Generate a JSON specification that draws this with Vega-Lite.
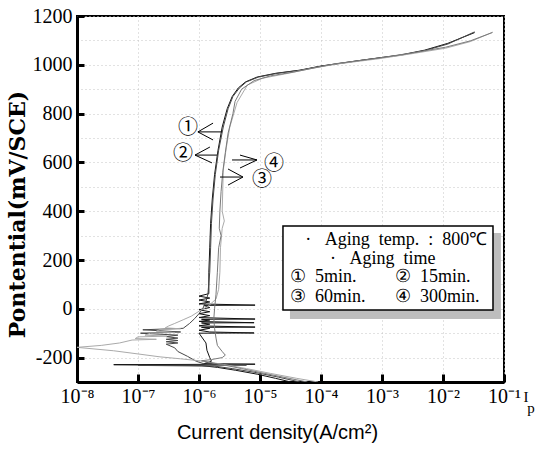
{
  "$schema": "https://vega.github.io/schema/vega-lite/v6.json",
  "width": 427,
  "height": 366,
  "autosize": {"type": "none"},
  "padding": {"left": 77, "top": 16, "right": 31, "bottom": 68},
  "background": "white",
  "config": {
    "view": {"stroke": "black", "strokeWidth": 2},
    "axis": {"labelColor": "black", "titleColor": "black"}
  },
  "datasets": {
    "curves": [
      {"c": "5", "k": 1, "x": 3.2e-5, "y": -300},
      {"c": "5", "k": 2, "x": 1.8e-5, "y": -285},
      {"c": "5", "k": 3, "x": 9e-6, "y": -268},
      {"c": "5", "k": 4, "x": 4e-6, "y": -252},
      {"c": "5", "k": 5, "x": 2e-6, "y": -240},
      {"c": "5", "k": 6, "x": 1.1e-6, "y": -233},
      {"c": "5", "k": 7, "x": 4e-8, "y": -229},
      {"c": "5", "k": 8, "x": 8.3e-6, "y": -227},
      {"c": "5", "k": 9, "x": 1.2e-6, "y": -225},
      {"c": "5", "k": 10, "x": 1.6e-6, "y": -215},
      {"c": "5", "k": 11, "x": 1.5e-6, "y": -200},
      {"c": "5", "k": 12, "x": 1.35e-6, "y": -170},
      {"c": "5", "k": 13, "x": 1.3e-6, "y": -140},
      {"c": "5", "k": 14, "x": 1.0e-6, "y": -100},
      {"c": "5", "k": 15, "x": 8e-6, "y": -99},
      {"c": "5", "k": 16, "x": 1.5e-6, "y": -95},
      {"c": "5", "k": 17, "x": 1.0e-6, "y": -88},
      {"c": "5", "k": 18, "x": 1.5e-6, "y": -80},
      {"c": "5", "k": 19, "x": 1.1e-6, "y": -76},
      {"c": "5", "k": 20, "x": 8.3e-6, "y": -75},
      {"c": "5", "k": 21, "x": 1.0e-6, "y": -70},
      {"c": "5", "k": 22, "x": 1.5e-6, "y": -63},
      {"c": "5", "k": 23, "x": 1.1e-6, "y": -58},
      {"c": "5", "k": 24, "x": 8e-6, "y": -57},
      {"c": "5", "k": 25, "x": 1.0e-6, "y": -52},
      {"c": "5", "k": 26, "x": 1.5e-6, "y": -46},
      {"c": "5", "k": 27, "x": 1.1e-6, "y": -43},
      {"c": "5", "k": 28, "x": 8.3e-6, "y": -42},
      {"c": "5", "k": 29, "x": 1.0e-6, "y": -36},
      {"c": "5", "k": 30, "x": 1.5e-6, "y": -28},
      {"c": "5", "k": 31, "x": 1.0e-6, "y": -20},
      {"c": "5", "k": 32, "x": 1.5e-6, "y": -12},
      {"c": "5", "k": 33, "x": 1.0e-6, "y": -4},
      {"c": "5", "k": 34, "x": 1.5e-6, "y": 5},
      {"c": "5", "k": 35, "x": 1.2e-6, "y": 14},
      {"c": "5", "k": 36, "x": 8.3e-6, "y": 15},
      {"c": "5", "k": 37, "x": 1.0e-6, "y": 20},
      {"c": "5", "k": 38, "x": 1.5e-6, "y": 28},
      {"c": "5", "k": 39, "x": 1.0e-6, "y": 36},
      {"c": "5", "k": 40, "x": 1.5e-6, "y": 44},
      {"c": "5", "k": 41, "x": 1.0e-6, "y": 52},
      {"c": "5", "k": 42, "x": 1.45e-6, "y": 62},
      {"c": "5", "k": 43, "x": 1.45e-6, "y": 150},
      {"c": "5", "k": 44, "x": 1.5e-6, "y": 250},
      {"c": "5", "k": 45, "x": 1.55e-6, "y": 350},
      {"c": "5", "k": 46, "x": 1.65e-6, "y": 450},
      {"c": "5", "k": 47, "x": 1.8e-6, "y": 550},
      {"c": "5", "k": 48, "x": 2.05e-6, "y": 650},
      {"c": "5", "k": 49, "x": 2.4e-6, "y": 745},
      {"c": "5", "k": 50, "x": 2.9e-6, "y": 820},
      {"c": "5", "k": 51, "x": 3.5e-6, "y": 870},
      {"c": "5", "k": 52, "x": 4.4e-6, "y": 905},
      {"c": "5", "k": 53, "x": 5.8e-6, "y": 930},
      {"c": "5", "k": 54, "x": 9e-6, "y": 950},
      {"c": "5", "k": 55, "x": 1.8e-5, "y": 965},
      {"c": "5", "k": 56, "x": 4.5e-5, "y": 978},
      {"c": "5", "k": 57, "x": 1e-4, "y": 995},
      {"c": "5", "k": 58, "x": 5e-4, "y": 1020},
      {"c": "5", "k": 59, "x": 2e-3, "y": 1040},
      {"c": "5", "k": 60, "x": 5e-3, "y": 1060},
      {"c": "5", "k": 61, "x": 1.2e-2, "y": 1088},
      {"c": "5", "k": 62, "x": 3.3e-2, "y": 1132},

      {"c": "15", "k": 1, "x": 4.5e-5, "y": -300},
      {"c": "15", "k": 2, "x": 2e-5, "y": -280},
      {"c": "15", "k": 3, "x": 8e-6, "y": -260},
      {"c": "15", "k": 4, "x": 3.5e-6, "y": -245},
      {"c": "15", "k": 5, "x": 1.8e-6, "y": -235},
      {"c": "15", "k": 6, "x": 1e-7, "y": -232},
      {"c": "15", "k": 7, "x": 6e-6, "y": -231},
      {"c": "15", "k": 8, "x": 1.3e-6, "y": -228},
      {"c": "15", "k": 9, "x": 9e-7, "y": -215},
      {"c": "15", "k": 10, "x": 6.5e-7, "y": -195},
      {"c": "15", "k": 11, "x": 4.5e-7, "y": -175},
      {"c": "15", "k": 12, "x": 4e-7, "y": -160},
      {"c": "15", "k": 13, "x": 2.9e-7, "y": -145},
      {"c": "15", "k": 14, "x": 4.5e-7, "y": -140},
      {"c": "15", "k": 15, "x": 2.9e-7, "y": -135},
      {"c": "15", "k": 16, "x": 4.5e-7, "y": -130},
      {"c": "15", "k": 17, "x": 2.9e-7, "y": -125},
      {"c": "15", "k": 18, "x": 4.5e-7, "y": -120},
      {"c": "15", "k": 19, "x": 2.9e-7, "y": -114},
      {"c": "15", "k": 20, "x": 4.5e-7, "y": -108},
      {"c": "15", "k": 21, "x": 1.1e-7, "y": -100},
      {"c": "15", "k": 22, "x": 5e-7, "y": -95},
      {"c": "15", "k": 23, "x": 1.2e-7, "y": -86},
      {"c": "15", "k": 24, "x": 5.5e-7, "y": -80},
      {"c": "15", "k": 25, "x": 7e-7, "y": -60},
      {"c": "15", "k": 26, "x": 8.5e-7, "y": -40},
      {"c": "15", "k": 27, "x": 1.0e-6, "y": -20},
      {"c": "15", "k": 28, "x": 1.15e-6, "y": 0},
      {"c": "15", "k": 29, "x": 1.3e-6, "y": 30},
      {"c": "15", "k": 30, "x": 1.4e-6, "y": 60},
      {"c": "15", "k": 31, "x": 1.5e-6, "y": 150},
      {"c": "15", "k": 32, "x": 1.55e-6, "y": 250},
      {"c": "15", "k": 33, "x": 1.6e-6, "y": 350},
      {"c": "15", "k": 34, "x": 1.7e-6, "y": 450},
      {"c": "15", "k": 35, "x": 1.85e-6, "y": 550},
      {"c": "15", "k": 36, "x": 2.1e-6, "y": 650},
      {"c": "15", "k": 37, "x": 2.5e-6, "y": 745},
      {"c": "15", "k": 38, "x": 3e-6, "y": 820},
      {"c": "15", "k": 39, "x": 3.6e-6, "y": 870},
      {"c": "15", "k": 40, "x": 4.6e-6, "y": 905},
      {"c": "15", "k": 41, "x": 6e-6, "y": 930},
      {"c": "15", "k": 42, "x": 9.5e-6, "y": 950},
      {"c": "15", "k": 43, "x": 1.9e-5, "y": 965},
      {"c": "15", "k": 44, "x": 4.7e-5, "y": 978},
      {"c": "15", "k": 45, "x": 1.05e-4, "y": 995},
      {"c": "15", "k": 46, "x": 5.2e-4, "y": 1020},
      {"c": "15", "k": 47, "x": 2.1e-3, "y": 1040},
      {"c": "15", "k": 48, "x": 5e-3, "y": 1058},
      {"c": "15", "k": 49, "x": 1.2e-2, "y": 1085},
      {"c": "15", "k": 50, "x": 3.3e-2, "y": 1135},

      {"c": "60", "k": 1, "x": 9e-5, "y": -300},
      {"c": "60", "k": 2, "x": 4e-5, "y": -285},
      {"c": "60", "k": 3, "x": 1.5e-5, "y": -265},
      {"c": "60", "k": 4, "x": 6e-6, "y": -245},
      {"c": "60", "k": 5, "x": 2.5e-6, "y": -228},
      {"c": "60", "k": 6, "x": 1.2e-6, "y": -215},
      {"c": "60", "k": 7, "x": 5e-7, "y": -205},
      {"c": "60", "k": 8, "x": 2.3e-7, "y": -197},
      {"c": "60", "k": 9, "x": 1e-7, "y": -185},
      {"c": "60", "k": 10, "x": 4e-8, "y": -172},
      {"c": "60", "k": 11, "x": 1e-8, "y": -158},
      {"c": "60", "k": 12, "x": 2.5e-8, "y": -150},
      {"c": "60", "k": 13, "x": 5e-8, "y": -140},
      {"c": "60", "k": 14, "x": 8e-8, "y": -128},
      {"c": "60", "k": 15, "x": 2e-7, "y": -125},
      {"c": "60", "k": 16, "x": 9e-8, "y": -122},
      {"c": "60", "k": 17, "x": 1e-7, "y": -115},
      {"c": "60", "k": 18, "x": 3e-7, "y": -112},
      {"c": "60", "k": 19, "x": 1.3e-7, "y": -108},
      {"c": "60", "k": 20, "x": 1.6e-7, "y": -100},
      {"c": "60", "k": 21, "x": 4e-7, "y": -97},
      {"c": "60", "k": 22, "x": 2e-7, "y": -92},
      {"c": "60", "k": 23, "x": 2.3e-7, "y": -85},
      {"c": "60", "k": 24, "x": 5e-7, "y": -82},
      {"c": "60", "k": 25, "x": 2.8e-7, "y": -78},
      {"c": "60", "k": 26, "x": 3.2e-7, "y": -70},
      {"c": "60", "k": 27, "x": 4e-7, "y": -60},
      {"c": "60", "k": 28, "x": 5.5e-7, "y": -45},
      {"c": "60", "k": 29, "x": 7.5e-7, "y": -30},
      {"c": "60", "k": 30, "x": 1.0e-6, "y": -10},
      {"c": "60", "k": 31, "x": 1.4e-6, "y": 10},
      {"c": "60", "k": 32, "x": 1.9e-6, "y": 40},
      {"c": "60", "k": 33, "x": 2.1e-6, "y": 80},
      {"c": "60", "k": 34, "x": 2.2e-6, "y": 150},
      {"c": "60", "k": 35, "x": 2.25e-6, "y": 250},
      {"c": "60", "k": 36, "x": 2.4e-6, "y": 330},
      {"c": "60", "k": 37, "x": 2.6e-6, "y": 360},
      {"c": "60", "k": 38, "x": 2.4e-6, "y": 400},
      {"c": "60", "k": 39, "x": 2.5e-6, "y": 569},
      {"c": "60", "k": 40, "x": 2.8e-6, "y": 660},
      {"c": "60", "k": 41, "x": 3.2e-6, "y": 745},
      {"c": "60", "k": 42, "x": 4.2e-6, "y": 845},
      {"c": "60", "k": 43, "x": 6.2e-6, "y": 917},
      {"c": "60", "k": 44, "x": 1.1e-5, "y": 945},
      {"c": "60", "k": 45, "x": 2.5e-5, "y": 962},
      {"c": "60", "k": 46, "x": 7e-5, "y": 985},
      {"c": "60", "k": 47, "x": 1.8e-4, "y": 1003},
      {"c": "60", "k": 48, "x": 9e-4, "y": 1025},
      {"c": "60", "k": 49, "x": 3e-3, "y": 1045},
      {"c": "60", "k": 50, "x": 1.1e-2, "y": 1068},
      {"c": "60", "k": 51, "x": 2.8e-2, "y": 1095},
      {"c": "60", "k": 52, "x": 6.6e-2, "y": 1134},

      {"c": "300", "k": 1, "x": 6e-5, "y": -300},
      {"c": "300", "k": 2, "x": 3e-5, "y": -285},
      {"c": "300", "k": 3, "x": 1.2e-5, "y": -265},
      {"c": "300", "k": 4, "x": 5e-6, "y": -245},
      {"c": "300", "k": 5, "x": 2.5e-6, "y": -230},
      {"c": "300", "k": 6, "x": 1.5e-6, "y": -220},
      {"c": "300", "k": 7, "x": 1.1e-6, "y": -213},
      {"c": "300", "k": 8, "x": 1.6e-6, "y": -208},
      {"c": "300", "k": 9, "x": 2.4e-6, "y": -200},
      {"c": "300", "k": 10, "x": 2.7e-6, "y": -190},
      {"c": "300", "k": 11, "x": 2.4e-6, "y": -175},
      {"c": "300", "k": 12, "x": 2e-6, "y": -150},
      {"c": "300", "k": 13, "x": 1.9e-6, "y": -120},
      {"c": "300", "k": 14, "x": 1.8e-6, "y": -80},
      {"c": "300", "k": 15, "x": 1.75e-6, "y": -40},
      {"c": "300", "k": 16, "x": 1.8e-6, "y": 0},
      {"c": "300", "k": 17, "x": 1.9e-6, "y": 60},
      {"c": "300", "k": 18, "x": 2.0e-6, "y": 150},
      {"c": "300", "k": 19, "x": 2.1e-6, "y": 250},
      {"c": "300", "k": 20, "x": 2.3e-6, "y": 300},
      {"c": "300", "k": 21, "x": 2.15e-6, "y": 330},
      {"c": "300", "k": 22, "x": 2.2e-6, "y": 400},
      {"c": "300", "k": 23, "x": 2.3e-6, "y": 480},
      {"c": "300", "k": 24, "x": 2.45e-6, "y": 560},
      {"c": "300", "k": 25, "x": 2.7e-6, "y": 640},
      {"c": "300", "k": 26, "x": 3.0e-6, "y": 720},
      {"c": "300", "k": 27, "x": 3.6e-6, "y": 800},
      {"c": "300", "k": 28, "x": 3.9e-6, "y": 850},
      {"c": "300", "k": 29, "x": 5e-6, "y": 900},
      {"c": "300", "k": 30, "x": 8e-6, "y": 935},
      {"c": "300", "k": 31, "x": 1.5e-5, "y": 955},
      {"c": "300", "k": 32, "x": 3.5e-5, "y": 970},
      {"c": "300", "k": 33, "x": 8e-5, "y": 988},
      {"c": "300", "k": 34, "x": 1.8e-4, "y": 1005},
      {"c": "300", "k": 35, "x": 9e-4, "y": 1028},
      {"c": "300", "k": 36, "x": 3e-3, "y": 1048},
      {"c": "300", "k": 37, "x": 1.1e-2, "y": 1072},
      {"c": "300", "k": 38, "x": 2.8e-2, "y": 1098},
      {"c": "300", "k": 39, "x": 6.4e-2, "y": 1132}
    ],
    "arrows": [
      {"x": 9.6e-7, "x2": 2.38e-6, "y": 725, "y2": 725},
      {"x": 9.6e-7, "x2": 1.70e-6, "y": 725, "y2": 761},
      {"x": 9.6e-7, "x2": 1.70e-6, "y": 725, "y2": 692},
      {"x": 8.6e-7, "x2": 1.97e-6, "y": 630, "y2": 630},
      {"x": 8.6e-7, "x2": 1.51e-6, "y": 630, "y2": 663},
      {"x": 8.6e-7, "x2": 1.63e-6, "y": 630, "y2": 598},
      {"x": 3.48e-6, "x2": 8.93e-6, "y": 610, "y2": 610},
      {"x": 4.70e-6, "x2": 8.93e-6, "y": 630, "y2": 610},
      {"x": 4.70e-6, "x2": 8.93e-6, "y": 577, "y2": 610},
      {"x": 2.21e-6, "x2": 5.26e-6, "y": 540, "y2": 540},
      {"x": 2.99e-6, "x2": 5.26e-6, "y": 573, "y2": 540},
      {"x": 2.99e-6, "x2": 5.26e-6, "y": 507, "y2": 540}
    ],
    "nums": [
      {"x": 6.6e-7, "y": 741, "t": "①"},
      {"x": 5.47e-7, "y": 634, "t": "②"},
      {"x": 1.08e-5, "y": 526, "t": "③"},
      {"x": 1.7e-5, "y": 593, "t": "④"}
    ],
    "shadow": [{"x": 3.1e-5, "x2": 0.089, "y": 311, "y2": -42}],
    "box": [{"x": 2.38e-5, "x2": 0.066, "y": 339, "y2": -5}],
    "legend": [
      {"x": 5.5e-5, "y": 282, "t": "·\u00a0\u00a0\u00a0Aging\u00a0\u00a0temp.\u00a0\u00a0:\u00a0\u00a0800℃"},
      {"x": 1.4e-4, "y": 204, "t": "·\u00a0\u00a0\u00a0Aging\u00a0\u00a0time"},
      {"x": 3.1e-5, "y": 130, "t": "①\u00a0\u00a05min."},
      {"x": 1.63e-3, "y": 130, "t": "②\u00a0\u00a015min."},
      {"x": 3.1e-5, "y": 48, "t": "③\u00a0\u00a060min."},
      {"x": 1.63e-3, "y": 48, "t": "④\u00a0\u00a0300min."}
    ],
    "extra": [
      {"x": 0.23, "y": -361, "t": "I"},
      {"x": 0.277, "y": -407, "t": "p"}
    ]
  },
  "encoding": {
    "x": {
      "field": "x",
      "type": "quantitative",
      "scale": {"type": "log", "domain": [1e-8, 0.1], "nice": false},
      "axis": {
        "values": [1e-8, 1e-7, 1e-6, 1e-5, 1e-4, 1e-3, 1e-2, 1e-1],
        "labelExpr": "'10' + ['⁰','⁻¹','⁻²','⁻³','⁻⁴','⁻⁵','⁻⁶','⁻⁷','⁻⁸'][round(-log(datum.value)/LN10)]",
        "labelFont": "Liberation Serif",
        "labelFontSize": 20,
        "labelFlush": false,
        "labelOverlap": false,
        "labelPadding": 12,
        "grid": true,
        "gridDash": [1, 3],
        "gridColor": "#c4c4c4",
        "gridWidth": 1,
        "tickSize": -8,
        "tickWidth": 3,
        "tickColor": "black",
        "domainColor": "black",
        "domainWidth": 3,
        "title": "Current density(A/cm²)",
        "titleFont": "Liberation Sans",
        "titleFontSize": 20,
        "titleFontWeight": "normal",
        "titleX": 200,
        "titleY": 50,
        "titleBaseline": "middle",
        "titleAlign": "center"
      }
    },
    "y": {
      "field": "y",
      "type": "quantitative",
      "scale": {"domain": [-300, 1200], "nice": false, "zero": false},
      "axis": {
        "values": [-200, -100, 0, 100, 200, 300, 400, 500, 600, 700, 800, 900, 1000, 1100, 1200],
        "labelExpr": "datum.value % 200 === 0 ? '' + datum.value : ''",
        "labelFont": "Liberation Serif",
        "labelFontSize": 20,
        "labelPadding": 12,
        "labelOverlap": false,
        "grid": true,
        "gridDash": [1, 3],
        "gridColor": "#c4c4c4",
        "gridWidth": 1,
        "tickSize": -7,
        "tickWidth": 3,
        "tickColor": "black",
        "tickOpacity": {"condition": {"test": "datum.value % 200 === 0", "value": 1}, "value": 0},
        "domainColor": "black",
        "domainWidth": 3,
        "title": "Pontential(mV/SCE)",
        "titleFont": "DejaVu Serif",
        "titleFontSize": 22,
        "titleFontWeight": "bold",
        "titleAngle": -90,
        "titleX": -60,
        "titleY": 198,
        "titleBaseline": "middle",
        "titleAlign": "center"
      }
    }
  },
  "layer": [
    {
      "data": {"name": "shadow"},
      "mark": {"type": "rect", "fill": "#bdbdbd"},
      "encoding": {"x2": {"field": "x2"}, "y2": {"field": "y2"}}
    },
    {
      "data": {"name": "box"},
      "mark": {"type": "rect", "fill": "white", "stroke": "black", "strokeWidth": 1.5},
      "encoding": {"x2": {"field": "x2"}, "y2": {"field": "y2"}}
    },
    {
      "data": {"name": "curves"},
      "mark": {"type": "line", "strokeWidth": 1, "clip": true},
      "encoding": {
        "detail": {"field": "c"},
        "order": {"field": "k", "type": "quantitative"},
        "color": {
          "field": "c",
          "type": "nominal",
          "scale": {"domain": ["5", "15", "60", "300"], "range": ["#111111", "#474747", "#aaaaaa", "#7a7a7a"]},
          "legend": null
        }
      }
    },
    {
      "data": {"name": "arrows"},
      "mark": {"type": "rule", "color": "black", "strokeWidth": 1},
      "encoding": {"x2": {"field": "x2"}, "y2": {"field": "y2"}}
    },
    {
      "data": {"name": "nums"},
      "mark": {"type": "text", "font": "Noto Sans CJK KR", "fontSize": 20, "color": "black", "align": "center", "baseline": "middle"},
      "encoding": {"text": {"field": "t"}}
    },
    {
      "data": {"name": "legend"},
      "mark": {"type": "text", "font": "Liberation Serif", "fontSize": 18, "color": "black", "align": "left", "baseline": "middle"},
      "encoding": {"text": {"field": "t"}}
    },
    {
      "data": {"name": "extra"},
      "mark": {"type": "text", "font": "Liberation Serif", "fontSize": 15, "color": "black", "align": "center", "baseline": "middle", "clip": false},
      "encoding": {"text": {"field": "t"}}
    }
  ]
}
